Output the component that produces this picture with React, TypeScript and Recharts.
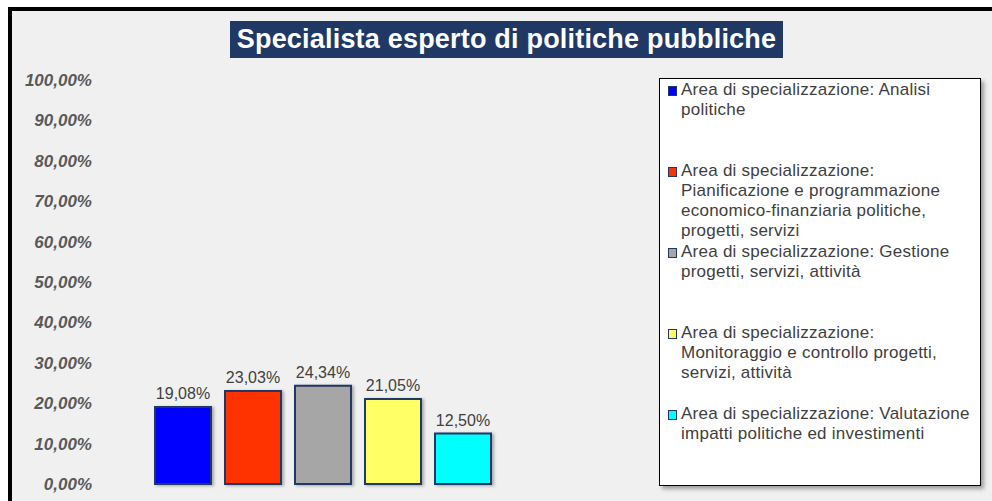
import { Bar, BarChart, LabelList, Legend, XAxis, YAxis } from "recharts";

const TITLE = "Specialista esperto di politiche pubbliche";

const SERIES_NAMES = [
  "Area di specializzazione: Analisi\npolitiche",
  "Area di specializzazione:\nPianificazione e programmazione\neconomico-finanziaria politiche,\nprogetti, servizi",
  "Area di specializzazione: Gestione\nprogetti, servizi, attività",
  "Area di specializzazione:\nMonitoraggio e controllo progetti,\nservizi, attività",
  "Area di specializzazione: Valutazione\nimpatti politiche ed investimenti",
];
const SERIES_VALUES = [0.1908, 0.2303, 0.2434, 0.2105, 0.125];
const SERIES_COLORS = ["#0000ff", "#ff3300", "#a6a6a6", "#ffff66", "#00ffff"];
const Y_TICKS = [0, 0.1, 0.2, 0.3, 0.4, 0.5, 0.6, 0.7, 0.8, 0.9, 1];

const FONT = '"Liberation Sans", Arial, sans-serif';

const pct = (v: number) => (v * 100).toFixed(2).replace(".", ",") + "%";

// one category, one bar per series (Excel-style clustered series)
const data = [
  SERIES_VALUES.reduce<Record<string, number | string>>(
    (row, v, i) => {
      row[`s${i}`] = v;
      return row;
    },
    { name: TITLE },
  ),
];

function LegendBox({ payload }: any) {
  // keep the series order, recharts sorts legend items by name
  const items = [...(payload ?? [])].sort(
    (a: any, b: any) => SERIES_NAMES.indexOf(a.value) - SERIES_NAMES.indexOf(b.value),
  );
  return (
    <div
      style={{
        boxSizing: "border-box",
        width: 322,
        height: 408,
        background: "#ffffff",
        border: "1.5px solid #000",
        boxShadow: "3px 3px 4px rgba(0,0,0,0.35)",
        paddingTop: 1,
        fontFamily: FONT,
      }}
    >
      {items.map((p: any) => (
        <div key={p.value} style={{ height: 81, display: "flex", alignItems: "flex-start" }}>
          <span
            style={{
              width: 7,
              height: 8,
              marginTop: 6,
              marginLeft: 8,
              marginRight: 4,
              flex: "none",
              background: p.color,
              border: "1px solid #1f3864",
            }}
          />
          <span
            style={{
              whiteSpace: "pre",
              fontSize: 17,
              lineHeight: "20px",
              letterSpacing: 0.25,
              color: "#404040",
            }}
          >
            {p.value}
          </span>
        </div>
      ))}
    </div>
  );
}

export default function App() {
  return (
    <div
      style={{
        position: "fixed",
        left: 0,
        top: 0,
        width: 992,
        height: 501,
        overflow: "hidden",
        background: "#ffffff",
        fontFamily: FONT,
      }}
    >
      <div
        style={{
          position: "absolute",
          left: 8,
          top: 7,
          width: 1000,
          height: 520,
          border: "4px solid #000",
          background: "#f0f0f0",
        }}
      />
      <div
        style={{
          position: "absolute",
          left: 230,
          top: 21,
          width: 553,
          height: 37,
          background: "#1f3864",
          color: "#fff",
          fontWeight: 700,
          fontSize: 27,
          letterSpacing: 0.2,
          lineHeight: "37px",
          textAlign: "center",
          whiteSpace: "nowrap",
        }}
      >
        {TITLE}
      </div>
      <div style={{ position: "absolute", left: 0, top: 0 }}>
        <BarChart
          width={992}
          height={501}
          data={data}
          margin={{ top: 80, right: 447, bottom: 17, left: 10 }}
          barSize={56}
          barGap={14}
        >
          <XAxis dataKey="name" hide />
          <YAxis
            width={90}
            domain={[0, 1]}
            ticks={Y_TICKS}
            interval={0}
            tickFormatter={pct}
            axisLine={false}
            tickLine={false}
            tick={{
              fill: "#595959",
              fontSize: 17,
              fontStyle: "italic",
              fontWeight: 700,
              fontFamily: FONT,
            }}
          />
          <Legend
            layout="horizontal"
            align="center"
            verticalAlign="middle"
            content={<LegendBox />}
            wrapperStyle={{ left: 659, top: 78, width: 322, height: 408 }}
          />
          {SERIES_NAMES.map((name, i) => (
            <Bar
              key={name}
              dataKey={`s${i}`}
              name={name}
              fill={SERIES_COLORS[i]}
              stroke="#1f3864"
              strokeWidth={2}
              style={{ filter: "drop-shadow(2px 1px 1.5px rgba(0,0,0,0.3))" }}
              isAnimationActive={false}
            >
              <LabelList
                dataKey={`s${i}`}
                position="top"
                offset={8}
                formatter={(v: any) => pct(Number(v))}
                fill="#404040"
                fontSize={16}
                fontFamily={FONT}
              />
            </Bar>
          ))}
        </BarChart>
      </div>
    </div>
  );
}
